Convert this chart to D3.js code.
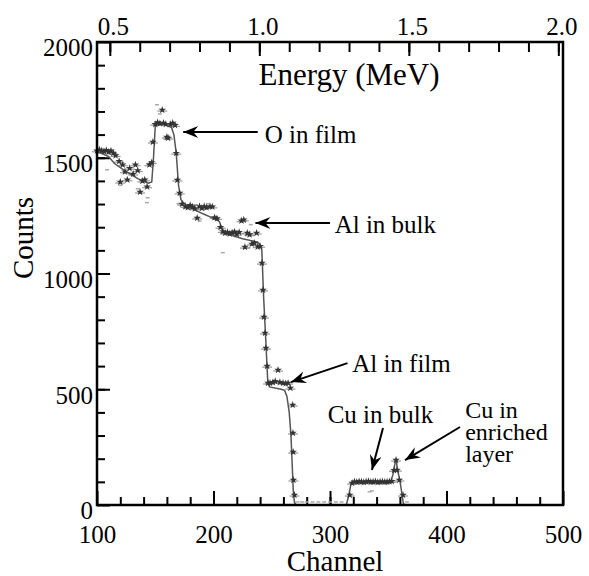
<!DOCTYPE html>
<html>
<head>
<meta charset="utf-8">
<script src="https://cdn.jsdelivr.net/npm/d3@7"></script>
<style>
body { margin: 0; background: #fff; }
svg text { font-family: "Liberation Serif", Tinos, "Times New Roman", "DejaVu Serif", serif; fill: #000; }
</style>
</head>
<body>
<svg id="chart" width="589" height="576"></svg>
<script>
// measured spectrum (stars)
var channels = [100,102,104,106,108,110,112,114,116,119,120,122,124,126,128,131,133,135,137,139,141,143,145,147,148,150,152,154,156,157,159,160,161,163,165,167,168,169,171,173,176,178,180,182,184,186,188,190,192,194,197,199,201,203,206,208,210,212,214,216,218,220,222,224,226,227,229,231,233,235,237,238,240,241.6,242.5,243.3,244.2,245,246,246.8,248.5,251,253,255.4,257,259.7,262,264,266,268,268.2,268.4,268.6,269.5,317,319,321,323,325,327,329,331,333,335,337,339,341,343,345,347,349,351,353,355,356.7,357.5,359.5,362.7];
var counts = [1530,1535,1530,1528,1532,1525,1530,1520,1510,1485,1395,1470,1440,1405,1455,1430,1470,1445,1352,1400,1405,1375,1470,1480,1568,1645,1652,1648,1706,1650,1645,1590,1585,1645,1650,1640,1520,1404,1348,1300,1290,1285,1295,1288,1280,1240,1290,1282,1290,1285,1290,1288,1242,1238,1200,1182,1175,1178,1172,1176,1180,1170,1178,1228,1232,1114,1175,1168,1128,1132,1175,1116,1118,1045,929,812,743,678,600,527,527,530,535,583,530,527,525,527,505,432,311,229,108,43,43,95,101,99,102,100,98,101,103,99,100,102,98,100,101,99,100,102,103,150,194,151,108,43];

// simulation (solid line)
var simChannels = [100,110,115,125,135,144,147,148.5,150,153,160,164,166,168,170,172,175,180,190,200,205,208,212,225,238,240,241.5,243,245,246.5,248,258,261,263,265,266.5,267.5,268.5,269.5,271,314,316,318,320,340,352,354,356,357,358,360,362,363,365];
var simCounts = [1528,1505,1475,1440,1410,1390,1395,1500,1635,1648,1640,1630,1600,1520,1380,1320,1300,1285,1260,1238,1225,1185,1170,1150,1135,1125,1100,900,700,540,510,500,495,470,400,300,180,60,10,0,0,40,90,97,98,100,130,185,190,150,105,40,5,0];

// faint scattered marks
var speckChannels = [151.5,154,108.6,142.9,143.5,208,185,195,170,232,230,188,120,135,272,276,280,285,290,295,300,305,310,334,336,366];
var speckCounts = [1728,1688,1447,1305,1326,1089,1296,1300,1300,1210,1110,1225,1380,1365,12,12,12,12,12,12,12,12,12,56,60,12];

var countTicks = [0, 500, 1000, 1500, 2000];
var channelTicks = [100, 200, 300, 400, 500];
var energyTicks = [0.5, 1.0, 1.5, 2.0];
var energyCal = [111, 496]; // channels of 0.5 and 2.0 MeV

var notes = [
    {lines: ["O in film"], at: [244, 1564], from: [238, 1611], to: [174, 1611]},
    {lines: ["Al in bulk"], at: [304, 1175], from: [300, 1218], to: [236, 1218]},
    {lines: ["Al in film"], at: [319, 575], from: [315, 613], to: [266.5, 531]},
    {lines: ["Cu in bulk"], at: [298, 354], from: [345.5, 333], to: [336, 151]},
    {lines: ["Cu in", "enriched", "layer"], at: [416, 376], from: [411.6, 337], to: [364.4, 194]}
];

var W = 589, H = 576;
var margin = {top: 42, right: 26, bottom: 71, left: 97};
var serif = "'Liberation Serif', Tinos, 'Times New Roman', 'DejaVu Serif', serif";

var svg = d3.select("#chart");

var x = d3.scaleLinear().domain([100, 500]).range([margin.left, W - margin.right]);
var y = d3.scaleLinear().domain([0, 2000]).range([H - margin.bottom, margin.top]);
var e = d3.scaleLinear().domain([0.5, 2.0]).range([x(energyCal[0]), x(energyCal[1])]);

svg.append("defs").append("marker")
    .attr("id", "head")
    .attr("markerUnits", "userSpaceOnUse")
    .attr("markerWidth", 20).attr("markerHeight", 14)
    .attr("refX", 0).attr("refY", 0)
    .attr("viewBox", "-16 -7 20 14")
    .attr("orient", "auto")
    .append("path")
    .attr("d", "M0,0 L-15,-6 L-10,0 L-15,6 Z")
    .attr("fill", "#000");

// axes
function style(g, size) {
    g.attr("font-family", serif).attr("font-size", size);
    g.select(".domain").remove();
    g.selectAll(".tick line").attr("stroke", "#000").attr("stroke-width", 2);
    g.selectAll("text").attr("fill", "#000");
}

var bottom = H - margin.bottom;

svg.append("g").attr("transform", "translate(0," + bottom + ")")
    .call(d3.axisBottom(x).tickValues(d3.range(120, 500, 20)).tickSize(-8).tickFormat(""))
    .call(style, 25);
svg.append("g").attr("transform", "translate(0," + bottom + ")")
    .call(d3.axisBottom(x).tickValues(channelTicks).tickSize(-14).tickPadding(20).tickFormat(d3.format("d")))
    .call(style, 25);

svg.append("g").attr("transform", "translate(" + margin.left + ",0)")
    .call(d3.axisLeft(y).tickValues(d3.range(100, 2000, 100)).tickSize(-8).tickFormat(""))
    .call(style, 25);
svg.append("g").attr("transform", "translate(" + margin.left + ",0)")
    .call(d3.axisLeft(y).tickValues(countTicks).tickSize(-13).tickPadding(4).tickFormat(d3.format("d")))
    .call(style, 25)
    .selectAll("text").attr("dy", "0.55em");

svg.append("g").attr("transform", "translate(0," + margin.top + ")")
    .call(d3.axisTop(e).tickValues(d3.range(5, 21).map(function(d) { return d / 10; })).tickSize(-10).tickFormat(""))
    .call(style, 25);
svg.append("g").attr("transform", "translate(0," + margin.top + ")")
    .call(d3.axisTop(e).tickValues(energyTicks).tickSize(-14).tickPadding(7).tickFormat(d3.format(".1f")))
    .call(style, 25)
    .selectAll("text").attr("dx", 3);

// data
var line = d3.line()
    .x(function(d, i) { return x(simChannels[i]); })
    .y(function(d) { return y(d); });

svg.append("g").selectAll("rect")
    .data(speckCounts)
    .join("rect")
    .attr("x", function(d, i) { return x(speckChannels[i]) - 2; })
    .attr("y", function(d) { return y(d) - 1; })
    .attr("width", 4).attr("height", 1.5)
    .attr("fill", "#aaa");

svg.append("g").selectAll("line")
    .data(counts)
    .join("line")
    .attr("x1", function(d, i) { return x(channels[i]) - 5; })
    .attr("x2", function(d, i) { return x(channels[i]) + 5; })
    .attr("y1", function(d) { return y(d) + 1; })
    .attr("y2", function(d) { return y(d) + 1; })
    .attr("stroke", "#999")
    .attr("stroke-width", 1.2);

svg.append("path")
    .datum(simCounts)
    .attr("d", line)
    .attr("fill", "none")
    .attr("stroke", "#555")
    .attr("stroke-width", 1.5);

svg.append("g").selectAll("path")
    .data(counts)
    .join("path")
    .attr("transform", function(d, i) { return "translate(" + x(channels[i]) + "," + y(d) + ")"; })
    .attr("d", d3.symbol().type(d3.symbolStar).size(18))
    .attr("fill", "#333");

// frame
svg.append("rect")
    .attr("x", margin.left).attr("y", margin.top)
    .attr("width", W - margin.left - margin.right)
    .attr("height", H - margin.top - margin.bottom)
    .attr("fill", "none")
    .attr("stroke", "#000")
    .attr("stroke-width", 2.5);

// titles
svg.append("text")
    .attr("x", 349).attr("y", 85)
    .attr("text-anchor", "middle")
    .attr("font-size", 31)
    .text("Energy (MeV)");

svg.append("text")
    .attr("x", 335).attr("y", 571)
    .attr("text-anchor", "middle")
    .attr("font-size", 29)
    .text("Channel");

svg.append("text")
    .attr("transform", "translate(33,238) rotate(-90)")
    .attr("text-anchor", "middle")
    .attr("font-size", 29)
    .text("Counts");

// annotations
notes.forEach(function(n) {
    svg.append("line")
        .attr("x1", x(n.from[0])).attr("y1", y(n.from[1]))
        .attr("x2", x(n.to[0])).attr("y2", y(n.to[1]))
        .attr("stroke", "#000")
        .attr("stroke-width", 2)
        .attr("marker-end", "url(#head)");
    var t = svg.append("text")
        .attr("x", x(n.at[0])).attr("y", y(n.at[1]))
        .attr("font-size", n.lines.length > 1 ? 24 : 25);
    t.selectAll("tspan")
        .data(n.lines)
        .join("tspan")
        .attr("x", x(n.at[0]))
        .attr("dy", function(d, i) { return i ? 22 : 0; })
        .text(function(d) { return d; });
});
</script>
</body>
</html>
